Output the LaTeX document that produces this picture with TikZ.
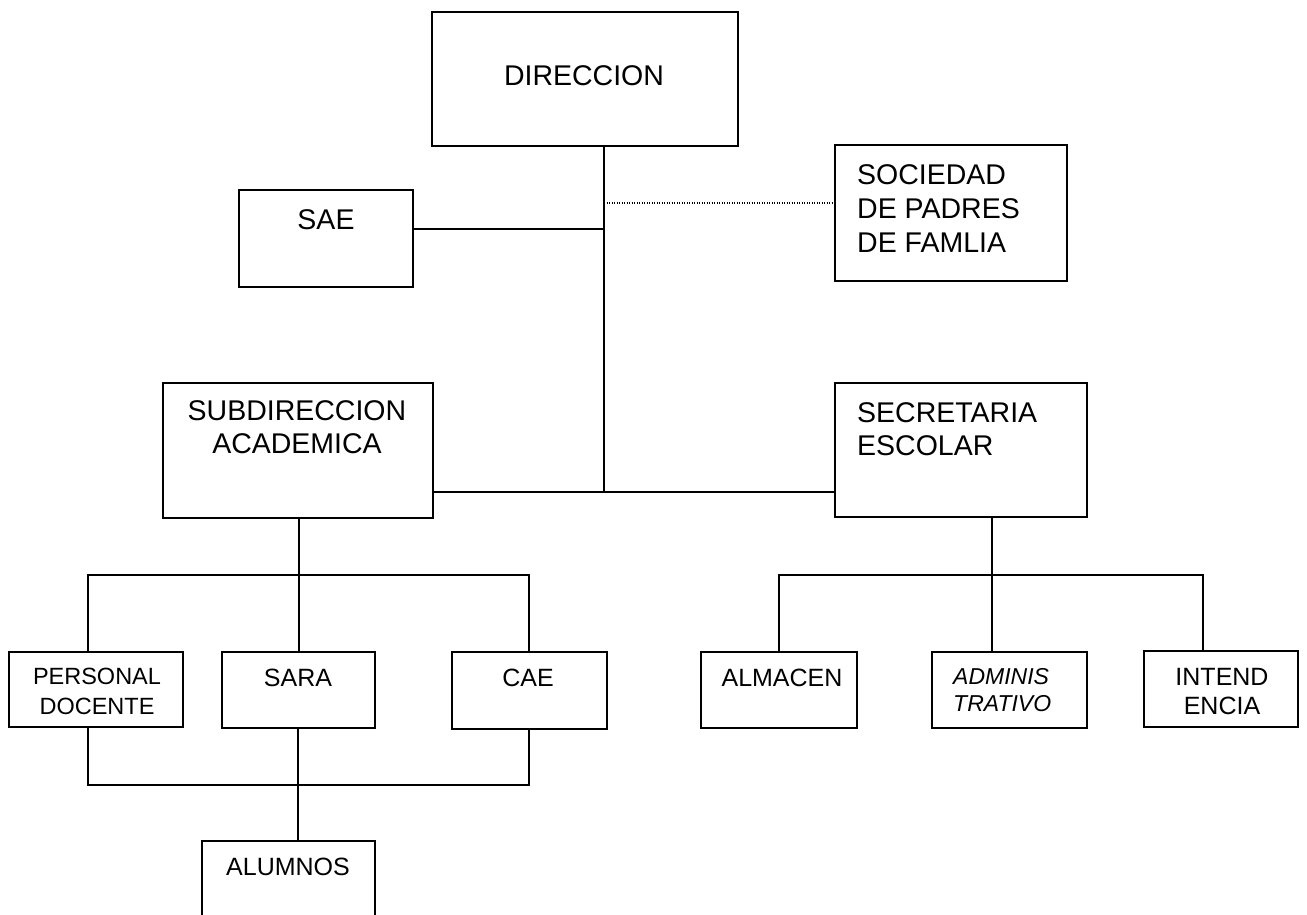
\documentclass[tikz,border=0pt]{standalone}
\usepackage{fontspec}
\setmainfont{Liberation Sans}
\begin{document}
\begin{tikzpicture}[x=1pt,y=-1pt,
  box/.style={draw=black, line width=2pt, inner sep=0pt},
  big/.style={inner sep=0pt, text=black, font=\fontsize{28.5}{33}\selectfont},
  small/.style={inner sep=0pt, text=black, font=\fontsize{25}{30}\selectfont},
  link/.style={draw=black, line width=1.6pt},
  dotlink/.style={draw=black, line width=1.4pt, dash pattern=on 1.2pt off 1.3pt}]

\clip (0,0) rectangle (1307,915);
\fill[white] (0,0) rectangle (1307,915);

% ---- upper level
\node[box, minimum width=306, minimum height=134] (dir) at (585,79) {};
\node[big, anchor=north] (dirT) at (584,65) {DIRECCION};

\node[box, minimum width=232, minimum height=136] (soc) at (951,213) {};
\node[big, anchor=north west, align=left, font=\fontsize{28.5}{34}\selectfont] (socT) at (857,164) {SOCIEDAD\\DE PADRES\\DE FAMLIA};

\node[box, minimum width=174, minimum height=97] (sae) at (326,238.5) {};
\node[big, anchor=north] (saeT) at (326,209) {SAE};

% ---- middle level
\node[box, minimum width=270, minimum height=135] (sub) at (298,450.5) {};
\node[big, anchor=north, align=center] (subT) at (297,400) {SUBDIRECCION\\ACADEMICA};

\node[box, minimum width=252, minimum height=134] (sec) at (961,450) {};
\node[big, anchor=north west, align=left] (secT) at (857,402) {SECRETARIA\\ESCOLAR};

% ---- lower level
\node[box, minimum width=174, minimum height=75] (pers) at (96,689.5) {};
\node[small, anchor=north, align=center, font=\fontsize{23.5}{30}\selectfont] (persT) at (97,668) {PERSONAL\\DOCENTE};

\node[box, minimum width=153, minimum height=76] (sara) at (298.5,690) {};
\node[small, anchor=north] (saraT) at (298,669) {SARA};

\node[box, minimum width=155, minimum height=77] (cae) at (529.5,690.5) {};
\node[small, anchor=north] (caeT) at (528,669) {CAE};

\node[box, minimum width=156, minimum height=76] (alm) at (779,690) {};
\node[small, anchor=north] (almT) at (782,669) {ALMACEN};

\node[box, minimum width=155, minimum height=76] (adm) at (1009.5,690) {};
\node[small, anchor=north west, align=left, font=\fontsize{23}{27}\selectfont\itshape] (admT) at (953,668) {ADMINIS\\TRATIVO};

\node[box, minimum width=154, minimum height=76] (int) at (1221,689) {};
\node[small, anchor=north, align=center, font=\fontsize{25}{29}\selectfont] (intT) at (1222,668) {INTEND\\ENCIA};

\node[box, minimum width=173, minimum height=119] (alum) at (288.5,900.5) {};
\node[small, anchor=north] (alumT) at (288,858) {ALUMNOS};

% ---- junction points
\coordinate (hub) at (604,492);
\coordinate (tapSoc) at (604,203);
\coordinate (tapSae) at (604,229);
\coordinate (acad) at (299,575);
\coordinate (a1) at (88,575);
\coordinate (a3) at (529,575);
\coordinate (b1) at (88,785);
\coordinate (b2) at (298,785);
\coordinate (b3) at (529,785);
\coordinate (sch) at (992,575);
\coordinate (r1) at (779,575);
\coordinate (r3) at (1203,575);

% ---- connectors
\draw[link] (dir.south -| hub) -- (hub);
\draw[dotlink] (tapSoc) -- (tapSoc -| soc.west);
\draw[link] (tapSae -| sae.east) -- (tapSae);
\draw[link] (hub -| sub.east) -- (hub -| sec.west);

\draw[link] (sub.south -| acad) -- (acad);
\draw[link] (pers.north -| a1) -- (a1) -- (a3) -- (cae.north -| a3);
\draw[link] (acad) -- (sara.north -| acad);

\draw[link] (pers.south -| b1) -- (b1) -- (b3) -- (cae.south -| b3);
\draw[link] (sara.south -| b2) -- (alum.north -| b2);

\draw[link] (sec.south -| sch) -- (sch);
\draw[link] (alm.north -| r1) -- (r1) -- (r3) -- (int.north -| r3);
\draw[link] (sch) -- (adm.north -| sch);
\end{tikzpicture}
\end{document}
